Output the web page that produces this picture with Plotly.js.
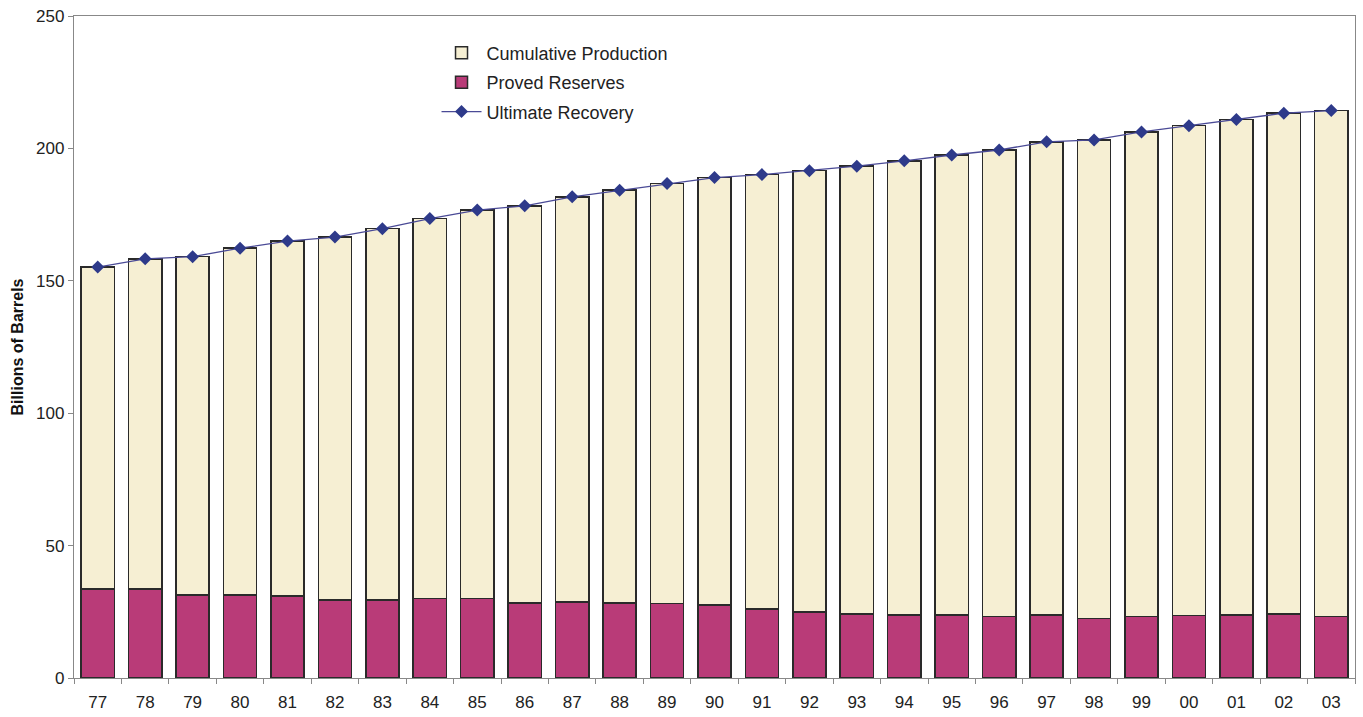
<!DOCTYPE html>
<html>
<head>
<meta charset="utf-8">
<script src="https://cdn.plot.ly/plotly-3.0.1.min.js"></script>
<style>html,body{margin:0;padding:0;background:#fff;}#chart{width:1363px;height:717px;}</style>
</head>
<body>
<div id="chart"></div>
<script>
const years = ["77","78","79","80","81","82","83","84","85","86","87","88","89","90","91","92","93","94","95","96","97","98","99","00","01","02","03"];
const provedReserves = [33.7,33.7,31.4,31.4,31.0,29.5,29.4,30.0,30.0,28.4,28.7,28.4,28.1,27.6,26.0,25.0,24.2,23.7,23.7,23.2,23.7,22.4,23.2,23.6,23.8,24.1,23.2];
const cumulativeProduction = [121.5,124.6,127.7,130.9,134.0,137.0,140.3,143.5,146.7,149.9,153.0,155.8,158.6,161.4,164.1,166.6,169.1,171.6,173.8,176.2,178.8,180.8,183.0,185.0,187.1,189.2,191.1];
const ultimateRecovery = [155.2,158.3,159.1,162.3,165.0,166.5,169.7,173.5,176.7,178.3,181.7,184.2,186.7,189.0,190.1,191.6,193.3,195.3,197.5,199.4,202.5,203.2,206.2,208.6,210.9,213.3,214.3];

const traces = [
  {type:"bar", name:"Proved Reserves", x:years, y:provedReserves, legendrank:2, legendgroup:"b",
   marker:{color:"#b93b78", line:{color:"#2a2a2a", width:1.5}}, hoverinfo:"y"},
  {type:"bar", name:"Cumulative Production", x:years, y:cumulativeProduction, legendrank:1, legendgroup:"a",
   marker:{color:"#f6efd3", line:{color:"#2a2a2a", width:1.5}}, hoverinfo:"y"},
  {type:"scatter", mode:"lines+markers", name:"Ultimate Recovery", x:years, y:ultimateRecovery, legendrank:3, legendgroup:"c",
   line:{color:"#4a4a96", width:1.3}, marker:{symbol:"diamond", size:10, color:"#2e3a8a"}}
];

const layout = {
  width:1363, height:717,
  margin:{l:74, r:8, t:16, b:39},
  paper_bgcolor:"#fff", plot_bgcolor:"#fff",
  font:{family:"Liberation Sans, Arial, sans-serif", size:17, color:"#222"},
  barmode:"stack", bargap:0.3,
  showlegend:true,
  legend:{x:0.283, y:0.972, xanchor:"left", yanchor:"top", bgcolor:"rgba(0,0,0,0)",
          font:{size:18, color:"#222"}, traceorder:"grouped", tracegroupgap:3, itemwidth:40},
  xaxis:{type:"category", range:[-0.5, 26.5], autorange:false, showline:true, linecolor:"#888", linewidth:1.2, mirror:true,
         ticks:"outside", tickson:"boundaries", ticklen:5, tickcolor:"#888", ticklabelstandoff:8,
         showgrid:false, zeroline:false, tickfont:{size:17, color:"#222"}},
  yaxis:{range:[0,250], dtick:50, showline:true, linecolor:"#888", linewidth:1.2, mirror:true,
         ticks:"outside", ticklen:5, tickcolor:"#888", showgrid:false, zeroline:false,
         tickfont:{size:17, color:"#222"},
         title:{text:"<b>Billions of Barrels</b>", font:{size:16, color:"#111"}, standoff:8}}
};
Plotly.newPlot("chart", traces, layout, {displayModeBar:false, staticPlot:true});
</script>
</body>
</html>
